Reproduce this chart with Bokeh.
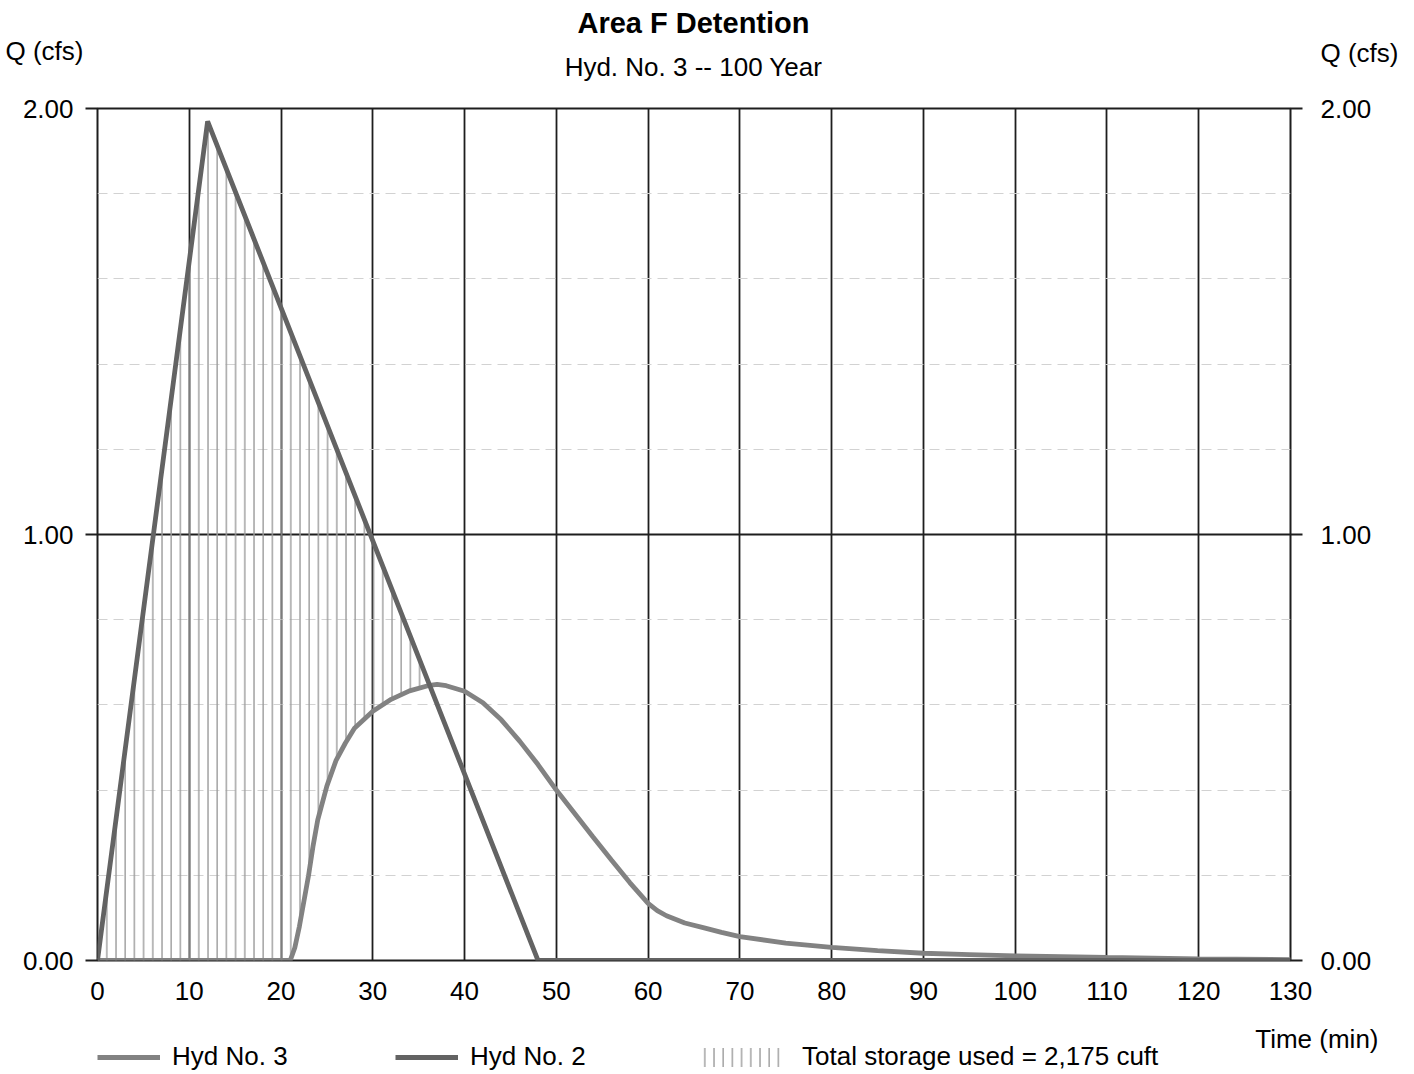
import numpy as np
from bokeh.plotting import figure
from bokeh.layouts import column
from bokeh.models import (Range1d, LinearAxis, FixedTicker, PrintfTickFormatter,
                          Label, Legend, LegendItem)
from bokeh.embed import file_html
from bokeh.resources import INLINE

# ---------------- data ----------------
# Hyd No. 2 : inflow hydrograph (min, cfs)
inflow_t = [0, 12, 48, 130]
inflow_q = [0.0, 1.97, 0.0, 0.0]

# Hyd No. 3 : routed outflow hydrograph (min, cfs)
outflow_t = [0, 21, 21.5, 22, 22.5, 23, 23.5, 24, 25, 26, 27, 28, 30, 32, 34, 36,
             37, 38, 40, 42, 44, 46, 48, 50, 52, 54, 56, 58, 60, 61, 62, 64, 66, 68,
             70, 75, 80, 85, 90, 95, 100, 110, 120, 130]
outflow_q = [0.0, 0.0, 0.03, 0.08, 0.14, 0.20, 0.27, 0.33, 0.41, 0.47, 0.51, 0.545,
             0.585, 0.613, 0.633, 0.645, 0.648, 0.645, 0.632, 0.605, 0.565, 0.515,
             0.46, 0.40, 0.345, 0.29, 0.236, 0.183, 0.134, 0.117, 0.105, 0.088,
             0.077, 0.066, 0.056, 0.041, 0.031, 0.023, 0.017, 0.014, 0.011, 0.007,
             0.004, 0.002]

x_ticks = list(range(0, 131, 10))
y_ticks = [0.0, 1.0, 2.0]
y_minor = [0.2, 0.4, 0.6, 0.8, 1.2, 1.4, 1.6, 1.8]

title_text = "Area F Detention"
subtitle_text = "Hyd. No. 3 -- 100 Year"
y_label_text = "Q (cfs)"
x_label_text = "Time (min)"
legend_labels = ["Hyd No. 3", "Hyd No. 2", "Total storage used = 2,175 cuft"]

FONT = "Liberation Sans"
FS = "26px"
DARK = "#1e1e1e"
OUT_COLOR = "#828282"
IN_COLOR = "#636363"
HATCH = dict(fill_alpha=0, hatch_pattern="|", hatch_color="#9c9c9c",
             hatch_scale=9.2, hatch_weight=1.4)
W = 1410

# storage area between inflow and outflow (derived from the two hydrographs)
grid_t = np.arange(0, 48.01, 0.1)
store_lo = np.interp(grid_t, outflow_t, outflow_q)
store_hi = np.maximum(np.interp(grid_t, inflow_t, inflow_q), store_lo)


def bare(height):
    f = figure(width=W, height=height, x_range=Range1d(0, 1), y_range=Range1d(0, 1),
               output_backend="svg", toolbar_location=None, min_border=0,
               x_axis_type=None, y_axis_type=None)
    f.outline_line_color = None
    f.grid.visible = False
    try:
        f.frame_align = False
    except Exception:
        pass
    return f


def add_label(f, text, x, y, align="left", bold=False, size=FS):
    f.add_layout(Label(x=x, y=y, x_units="screen", y_units="screen", text=text,
                       text_font=FONT, text_font_size=size,
                       text_font_style="bold" if bold else "normal",
                       text_align=align, text_baseline="middle",
                       text_color="black"))


# ---------------- header (title block), page y 0..90 ----------------
HH = 90
hdr = bare(HH)
add_label(hdr, title_text, 693, HH - 22, align="center", bold=True, size="29px")
add_label(hdr, subtitle_text, 693, HH - 66, align="center", size="26px")
add_label(hdr, y_label_text, 5, HH - 50, size="26px")
add_label(hdr, y_label_text, 1320, HH - 52, size="26px")

# ---------------- main chart, page y 90..1010 ----------------
p = figure(width=W, height=920, x_range=Range1d(0, 130), y_range=Range1d(0, 2),
           output_backend="svg", toolbar_location=None,
           min_border_left=97, min_border_right=120, min_border_top=18,
           min_border_bottom=50)
try:
    p.frame_align = False
except Exception:
    pass
p.outline_line_color = DARK
p.outline_line_width = 2
p.background_fill_color = "white"
p.border_fill_color = "white"

xa = p.xaxis[0]
xa.ticker = FixedTicker(ticks=x_ticks)
xa.major_tick_out = 0
xa.major_tick_in = 0
xa.minor_tick_line_color = None
xa.axis_line_color = None
xa.major_label_standoff = 21
xa.major_label_text_font = FONT
xa.major_label_text_font_size = FS
xa.major_label_text_color = "black"


def style_y(ax, standoff):
    ax.ticker = FixedTicker(ticks=y_ticks, minor_ticks=y_minor)
    ax.formatter = PrintfTickFormatter(format="%.2f")
    ax.major_tick_out = 12
    ax.major_tick_in = 0
    ax.major_tick_line_color = DARK
    ax.major_tick_line_width = 2
    ax.minor_tick_line_color = None
    ax.axis_line_color = None
    ax.major_label_standoff = standoff
    ax.major_label_text_font = FONT
    ax.major_label_text_font_size = FS
    ax.major_label_text_color = "black"


style_y(p.yaxis[0], 12)
ra = LinearAxis()
style_y(ra, 18)
p.add_layout(ra, "right")

p.xgrid.ticker = FixedTicker(ticks=x_ticks)
p.xgrid.grid_line_color = DARK
p.xgrid.grid_line_width = 1.8
p.ygrid.ticker = FixedTicker(ticks=y_ticks, minor_ticks=y_minor)
p.ygrid.grid_line_color = DARK
p.ygrid.grid_line_width = 1.8
p.ygrid.minor_grid_line_color = "#d2d2d2"
p.ygrid.minor_grid_line_width = 1
p.ygrid.minor_grid_line_dash = "10 6"

p.varea(x=grid_t, y1=store_lo, y2=store_hi, **HATCH)
p.line(outflow_t, outflow_q, line_color=OUT_COLOR, line_width=4.8)
p.line(inflow_t, inflow_q, line_color=IN_COLOR, line_width=4.8)

# ---------------- footer (x label + legend), page y 1010..1074 ----------------
FH = 64
ftr = bare(FH)
add_label(ftr, x_label_text, 1378, FH - 28, align="right")

# legend key renderers: same series, hidden here, used only for the legend keys
k_out = ftr.line(outflow_t, outflow_q, line_color=OUT_COLOR, line_width=4.8,
                 visible=False)
k_in = ftr.line(inflow_t, inflow_q, line_color=IN_COLOR, line_width=4.8,
                visible=False)
k_st = ftr.varea(x=grid_t, y1=store_lo, y2=store_hi, visible=False, **HATCH)


def add_legend(label, rend, vx, gw):
    lg = Legend(items=[LegendItem(label=label, renderers=[rend])],
                location=(vx, 2), orientation="horizontal",
                glyph_width=gw, glyph_height=24, label_height=24,
                label_standoff=12, padding=0, margin=0, spacing=0,
                border_line_color=None, background_fill_alpha=0,
                click_policy="none",
                label_text_font=FONT, label_text_font_size=FS,
                label_text_color="black")
    ftr.add_layout(lg, "center")


add_legend(legend_labels[0], k_out, 97, 63)
add_legend(legend_labels[1], k_in, 395, 63)
add_legend(legend_labels[2], k_st, 690, 100)

layout = column(hdr, p, ftr, spacing=0)
open("out.html", "w").write(file_html(layout, INLINE))
